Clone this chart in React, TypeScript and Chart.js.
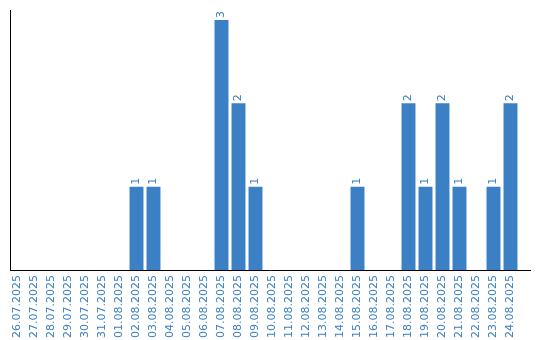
import React, { useEffect, useRef } from "react";
import { Chart, registerables } from "chart.js";

Chart.register(...registerables);

const categories: string[] = [
  "26.07.2025", "27.07.2025", "28.07.2025", "29.07.2025", "30.07.2025", "31.07.2025",
  "01.08.2025", "02.08.2025", "03.08.2025", "04.08.2025", "05.08.2025", "06.08.2025",
  "07.08.2025", "08.08.2025", "09.08.2025", "10.08.2025", "11.08.2025", "12.08.2025",
  "13.08.2025", "14.08.2025", "15.08.2025", "16.08.2025", "17.08.2025", "18.08.2025",
  "19.08.2025", "20.08.2025", "21.08.2025", "22.08.2025", "23.08.2025", "24.08.2025",
];

const counts: number[] = [
  0, 0, 0, 0, 0, 0,
  0, 1, 1, 0, 0, 0,
  3, 2, 1, 0, 0, 0,
  0, 0, 1, 0, 0, 2,
  1, 2, 1, 0, 1, 2,
];

const BLUE = "#3b7fc4";

const axisAndLabels = {
  id: "axisAndLabels",
  afterDatasetsDraw(chart: any) {
    const { ctx, chartArea } = chart;
    const meta = chart.getDatasetMeta(0);
    ctx.save();
    ctx.fillStyle = BLUE;
    ctx.font = "11px 'DejaVu Sans'";
    ctx.textAlign = "left";
    ctx.textBaseline = "middle";
    meta.data.forEach((bar: any, i: number) => {
      const v = counts[i];
      if (!v) return;
      ctx.save();
      ctx.translate(bar.x, bar.y - 2);
      ctx.rotate(-Math.PI / 2);
      ctx.fillText(String(v), 0, 0);
      ctx.restore();
    });
    ctx.strokeStyle = "#000";
    ctx.lineWidth = 1;
    ctx.beginPath();
    ctx.moveTo(10.5, chartArea.top);
    ctx.lineTo(10.5, chartArea.bottom + 0.5);
    ctx.moveTo(10, chartArea.bottom + 0.5);
    ctx.lineTo(531, chartArea.bottom + 0.5);
    ctx.stroke();
    ctx.restore();
  },
};

export default function App() {
  const ref = useRef<HTMLCanvasElement | null>(null);
  useEffect(() => {
    document.body.style.margin = "0";
    const canvas = ref.current!;
    const chart = new Chart(canvas, {
      type: "bar",
      data: {
        labels: categories,
        datasets: [
          {
            data: counts,
            backgroundColor: BLUE,
            barPercentage: 0.82,
            categoryPercentage: 1,
          },
        ],
      },
      options: {
        animation: false,
        responsive: false,
        maintainAspectRatio: false,
        layout: { padding: { top: 10, left: 9, right: 21, bottom: 0 } },
        plugins: { legend: { display: false }, tooltip: { enabled: false } },
        scales: {
          x: {
            grid: { display: false, drawTicks: false },
            border: { display: false },
            ticks: {
              color: BLUE,
              font: { family: "'DejaVu Sans'", size: 11 },
              minRotation: 90,
              maxRotation: 90,
              autoSkip: false,
              padding: 5,
            },
            afterFit(scale: any) {
              scale.height = 70;
            },
          },
          y: {
            display: false,
            min: 0,
            max: Math.max(...counts) * 1.04,
          },
        },
      },
      plugins: [axisAndLabels],
    });
    return () => chart.destroy();
  }, []);
  return <canvas ref={ref} width={540} height={340} style={{ display: "block" }} />;
}
